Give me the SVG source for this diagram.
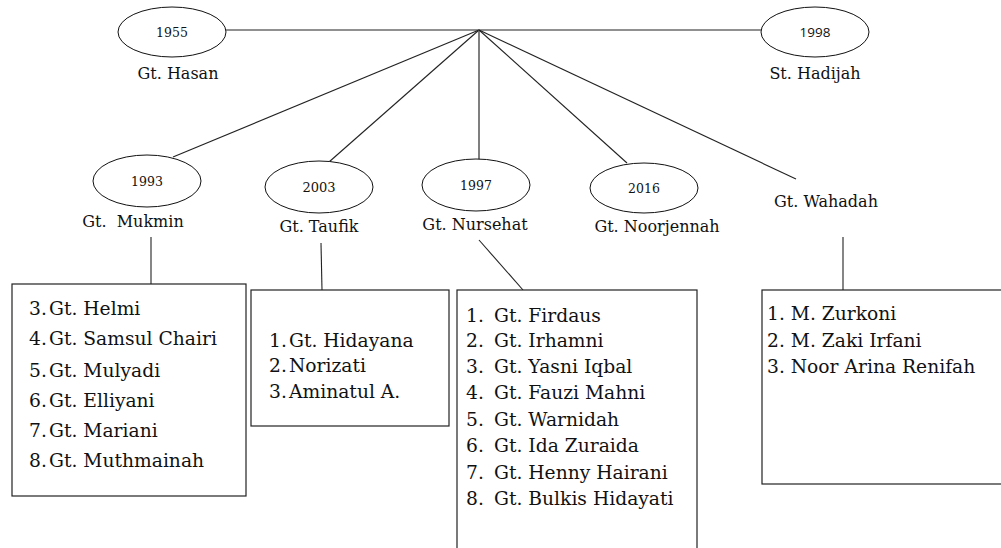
<svg xmlns="http://www.w3.org/2000/svg" width="1001" height="548" viewBox="0 0 1001 548">
<style>
.bg{fill:#fff}
.ell{fill:#fff;stroke:#111;stroke-width:1}
.box{fill:#fff;stroke:#222;stroke-width:1.2}
.ln{stroke:#222;stroke-width:1.1;fill:none}
.yr{font-family:"DejaVu Serif",serif;font-size:12.5px;fill:#111;text-anchor:middle}
.yrs{font-family:"Open Sans","Liberation Sans",sans-serif;font-size:13.5px;fill:#111;text-anchor:middle}
.lbl{font-family:"DejaVu Serif",serif;font-size:16px;fill:#111;text-anchor:middle}
.li{font-family:"DejaVu Serif",serif;font-size:18.7px;fill:#111}
</style>
<rect class="bg" x="0" y="0" width="1001" height="548"/>
<g id="connectors">
<line class="ln" x1="226" y1="30" x2="761" y2="30"/>
<line class="ln" x1="479" y1="30" x2="173" y2="157"/>
<line class="ln" x1="479" y1="30" x2="329" y2="162"/>
<line class="ln" x1="479" y1="30" x2="479" y2="160" style="stroke:#555;stroke-width:1.5"/>
<line class="ln" x1="479" y1="30" x2="627" y2="163"/>
<line class="ln" x1="479" y1="30" x2="796" y2="179"/>
<line class="ln" x1="151" y1="237" x2="151" y2="284"/>
<line class="ln" x1="321" y1="243" x2="322" y2="290"/>
<line class="ln" x1="479" y1="240" x2="523" y2="290"/>
<line class="ln" x1="843" y1="237" x2="843" y2="290"/>
</g>
<g id="n1955">
<ellipse class="ell" cx="172" cy="32" rx="54" ry="25"/>
<text class="yr" x="172" y="37">1955</text>
<text class="lbl" x="178" y="79">Gt. Hasan</text>
</g>
<g id="n1998">
<ellipse class="ell" cx="815" cy="32" rx="54" ry="25"/>
<text class="yrs" x="815" y="37">1998</text>
<text class="lbl" x="815" y="79">St. Hadijah</text>
</g>
<g id="n1993">
<ellipse class="ell" cx="147" cy="181" rx="54" ry="26"/>
<text class="yr" x="147" y="186">1993</text>
<text class="lbl" x="133" y="227" xml:space="preserve">Gt.  Mukmin</text>
</g>
<g id="n2003">
<ellipse class="ell" cx="319" cy="187" rx="54" ry="26"/>
<text class="yr" x="319" y="192" style="font-size:13px">2003</text>
<text class="lbl" x="319" y="232">Gt. Taufik</text>
</g>
<g id="n1997">
<ellipse class="ell" cx="476" cy="185" rx="54" ry="26"/>
<text class="yr" x="476" y="190">1997</text>
<text class="lbl" x="475" y="230">Gt. Nursehat</text>
</g>
<g id="n2016">
<ellipse class="ell" cx="644" cy="188" rx="54" ry="25"/>
<text class="yr" x="644" y="193">2016</text>
<text class="lbl" x="657" y="232">Gt. Noorjennah</text>
</g>
<g id="nWahadah">
<text class="lbl" x="826" y="207">Gt. Wahadah</text>
</g>
<g id="box1">
<rect class="box" x="12" y="284" width="234" height="212"/>
<text class="li" x="29" y="315">3.</text><text class="li" x="49" y="315">Gt. Helmi</text>
<text class="li" x="29" y="345">4.</text><text class="li" x="49" y="345">Gt. Samsul Chairi</text>
<text class="li" x="29" y="377">5.</text><text class="li" x="49" y="377">Gt. Mulyadi</text>
<text class="li" x="29" y="407">6.</text><text class="li" x="49" y="407">Gt. Elliyani</text>
<text class="li" x="29" y="437">7.</text><text class="li" x="49" y="437">Gt. Mariani</text>
<text class="li" x="29" y="467">8.</text><text class="li" x="49" y="467">Gt. Muthmainah</text>
</g>
<g id="box2">
<rect class="box" x="251" y="290" width="198" height="136"/>
<text class="li" x="269" y="347">1.</text><text class="li" x="289" y="347">Gt. Hidayana</text>
<text class="li" x="269" y="372">2.</text><text class="li" x="289" y="372">Norizati</text>
<text class="li" x="269" y="398">3.</text><text class="li" x="289" y="398">Aminatul A.</text>
</g>
<g id="box3">
<rect class="box" x="457" y="290" width="240" height="280"/>
<text class="li" x="466" y="322">1.</text><text class="li" x="494" y="322">Gt. Firdaus</text>
<text class="li" x="466" y="347">2.</text><text class="li" x="494" y="347">Gt. Irhamni</text>
<text class="li" x="466" y="373">3.</text><text class="li" x="494" y="373">Gt. Yasni Iqbal</text>
<text class="li" x="466" y="399">4.</text><text class="li" x="494" y="399">Gt. Fauzi Mahni</text>
<text class="li" x="466" y="426">5.</text><text class="li" x="494" y="426">Gt. Warnidah</text>
<text class="li" x="466" y="452">6.</text><text class="li" x="494" y="452">Gt. Ida Zuraida</text>
<text class="li" x="466" y="479">7.</text><text class="li" x="494" y="479">Gt. Henny Hairani</text>
<text class="li" x="466" y="505">8.</text><text class="li" x="494" y="505">Gt. Bulkis Hidayati</text>
</g>
<g id="box4">
<rect class="box" x="762" y="290" width="260" height="194"/>
<text class="li" x="767" y="320">1. M. Zurkoni</text>
<text class="li" x="767" y="347">2. M. Zaki Irfani</text>
<text class="li" x="767" y="373">3. Noor Arina Renifah</text>
</g>
</svg>
